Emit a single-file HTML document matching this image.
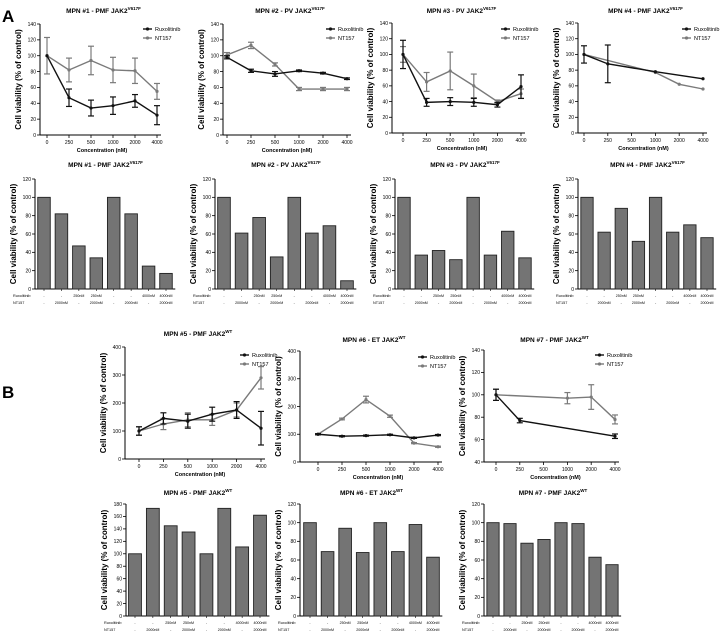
<!DOCTYPE html>
<html><head><meta charset="utf-8"><style>
body{margin:0;background:#fff;width:720px;height:636px;overflow:hidden;font-family:"Liberation Sans",sans-serif}
svg text{font-family:"Liberation Sans",sans-serif}
</style></head><body>
<svg id="fig" width="720" height="636" viewBox="0 0 720 636" xmlns="http://www.w3.org/2000/svg">
<text x="2" y="22" font-size="17" font-weight="bold">A</text>
<text x="2" y="398" font-size="17" font-weight="bold">B</text>
</svg>
<script>
const concLabels=["0","250","500","1000","2000","4000"];
const barRux=["-","-","250nM","250nM","-","-","4000nM","4000nM"];
const barNT=["-","2000nM","-","2000nM","-","2000nM","-","2000nM"];

const p1Rux=[100,47,34,37,43,25], p1RuxErr=[0,11,10,11,8,12];
const p1NT=[100,82,94,82,81,55], p1NTErr=[23,15,18,16,16,10];
const p2Rux=[98,81,77,81,78,71], p2RuxErr=[2,2,3,1,1,1];
const p2NT=[101,113,89,58,58,58], p2NTErr=[3,4,2,2,2,2];
const p3Rux=[100,39,40,39,36,59], p3RuxErr=[18,5,5,5,3,15];
const p3NT=[100,65,79,60,40,50], p3NTErr=[10,12,24,15,2,6];
const p4Rux=[100,88,null,78,null,69], p4RuxErr=[11,24,0,0,0,0];
const p4NT=[100,null,null,77,62,56], p4NTErr=[0,0,0,0,0,0];
const p5Rux=[100,145,135,160,175,110], p5RuxErr=[15,20,25,25,30,60];
const p5NT=[100,125,140,140,175,290], p5NTErr=[15,20,25,20,25,40];
const p6Rux=[100,93,95,98,87,97], p6RuxErr=[2,2,2,2,2,2];
const p6NT=[100,155,225,165,68,55], p6NTErr=[2,3,12,4,2,2];
const p7Rux=[100,77,null,null,null,63], p7RuxErr=[5,2,0,0,0,2];
const p7NT=[100,null,null,97,98,78], p7NTErr=[5,0,0,5,11,4];

const b1=[100,82,47,34,100,82,25,17];
const b2=[100,61,78,35,100,61,69,9];
const b3=[100,37,42,32,100,37,63,34];
const b4=[100,62,88,52,100,62,70,56];
const b5=[100,173,145,135,100,173,111,162];
const b6=[100,69,94,68,100,69,98,63];
const b7=[100,99,78,82,100,99,63,55];

const NS="http://www.w3.org/2000/svg";
const svg=document.getElementById('fig');
function mk(tag,attrs,parent,txt){const e=document.createElementNS(NS,tag);for(const k in attrs)e.setAttribute(k,attrs[k]);if(txt!==undefined)e.textContent=txt;(parent||svg).appendChild(e);return e;}

function title(g,cx,y,main,sup){
  const t=mk('text',{x:cx,y:y,'font-size':6.5,'font-weight':'bold','text-anchor':'middle'},g);
  
  
  mk('tspan',{},t,main);
  mk('tspan',{'font-size':4.5,dy:-3},t,sup);
}

function yAxis(g,ax,top,bot,min,max,step){
  const ys=v=>bot-(v-min)/(max-min)*(bot-top);
  const l=mk('line',{x1:ax,y1:top,x2:ax,y2:bot,stroke:'#000','stroke-width':1},g);
  
  
  for(let v=min;v<=max+1e-9;v+=step){
    mk('line',{x1:ax-3,y1:ys(v),x2:ax,y2:ys(v),stroke:'#000','stroke-width':0.8},g);
    const t=mk('text',{x:ax-4,y:ys(v)+1.8,'font-size':5,'text-anchor':'end'},g,String(v));
    
    
  }
  const yt=mk('text',{x:0,y:0,'font-size':8,'font-weight':'bold','text-anchor':'middle',transform:`translate(${ax-19},${(top+bot)/2}) rotate(-90)`},g,'Cell viability (% of control)');
  
  
  return ys;
}

function lineChart(o){
  const g=mk('g',{});
  
  
  title(g,(o.ax+o.x1)/2+5,o.ty,o.t,o.sup);
  const ys=yAxis(g,o.ax,o.top,o.bot,o.min,o.max,o.step);
  const xs=i=>o.x0+i*(o.x1-o.x0)/(concLabels.length-1);
  mk('line',{x1:o.ax,y1:o.bot,x2:o.x1+4,y2:o.bot,stroke:'#000','stroke-width':1},g);
  concLabels.forEach((c,i)=>{
    mk('line',{x1:xs(i),y1:o.bot,x2:xs(i),y2:o.bot+3,stroke:'#000','stroke-width':0.8},g);
    const t=mk('text',{x:xs(i),y:o.bot+9,'font-size':5,'text-anchor':'middle'},g,c);
    
    
  });
  const xl=mk('text',{x:(o.x0+o.x1)/2,y:o.bot+17,'font-size':5.5,'font-weight':'bold','text-anchor':'middle'},g,'Concentration (nM)');
  
  
  const series=[[o.nt,o.ntE,'#7a7a7a','NT157'],[o.rux,o.ruxE,'#111','Ruxolitinib']];
  series.forEach(([d,e,col,nm])=>{
    const pts=[];d.forEach((v,i)=>{if(v!==null)pts.push(xs(i)+','+ys(v));});
    const pl=mk('polyline',{points:pts.join(' '),fill:'none',stroke:col,'stroke-width':1.4},g);
    
    
    d.forEach((v,i)=>{
      if(v===null)return;
      if(e[i]>0){
        mk('line',{x1:xs(i),y1:ys(v-e[i]),x2:xs(i),y2:ys(v+e[i]),stroke:col,'stroke-width':1.2},g);
        mk('line',{x1:xs(i)-3,y1:ys(v-e[i]),x2:xs(i)+3,y2:ys(v-e[i]),stroke:col,'stroke-width':1.2},g);
        mk('line',{x1:xs(i)-3,y1:ys(v+e[i]),x2:xs(i)+3,y2:ys(v+e[i]),stroke:col,'stroke-width':1.2},g);
      }
      const p=mk('circle',{cx:xs(i),cy:ys(v),r:1.6,fill:col},g);
      
      
    });
  });
  [['#111','Ruxolitinib',0],['#7a7a7a','NT157',9]].forEach(([c,n,dy])=>{
    mk('line',{x1:o.lx,y1:o.ly+dy,x2:o.lx+9,y2:o.ly+dy,stroke:c,'stroke-width':1.4},g);
    mk('circle',{cx:o.lx+4.5,cy:o.ly+dy,r:1.6,fill:c},g);
    const t=mk('text',{x:o.lx+12,y:o.ly+dy+2,'font-size':5.5},g,n);
    
    
  });
}

function barChart(o){
  const g=mk('g',{});
  
  
  title(g,(o.ax+o.x1)/2+5,o.ty,o.t,o.sup);
  const ys=yAxis(g,o.ax,o.top,o.bot,0,o.max,o.step);
  const n=o.d.length;
  const xs=i=>o.x0+i*(o.x1-o.x0)/(n-1);
  const w=(o.x1-o.x0)/(n-1)*0.72;
  mk('line',{x1:o.ax,y1:o.bot,x2:o.x1+w/2+3,y2:o.bot,stroke:'#000','stroke-width':1},g);
  o.d.forEach((v,i)=>{
    const r=mk('rect',{x:xs(i)-w/2,y:ys(v),width:w,height:o.bot-ys(v),fill:'#747474',stroke:'#222','stroke-width':0.9},g);
    
    
    mk('line',{x1:xs(i),y1:o.bot,x2:xs(i),y2:o.bot+2,stroke:'#000','stroke-width':0.6},g);
    const a=mk('text',{x:xs(i),y:o.bot+8,'font-size':3.6,'text-anchor':'middle'},g,barRux[i]);
    
    
    const b=mk('text',{x:xs(i),y:o.bot+15,'font-size':3.6,'text-anchor':'middle'},g,barNT[i]);
    
    
  });
  const r1=mk('text',{x:o.ax-22,y:o.bot+8,'font-size':3.8},g,'Ruxolitinib');
  
  
  const r2=mk('text',{x:o.ax-22,y:o.bot+15,'font-size':3.8},g,'NT157');
  
  
}

const V="V617F", W="WT";
lineChart({name:'line-chart-mpn1',t:'MPN #1 - PMF JAK2',sup:V,ty:13,ax:40,top:24,bot:135,min:0,max:140,step:20,x0:47,x1:157,lx:143,ly:29,rux:p1Rux,ruxE:p1RuxErr,nt:p1NT,ntE:p1NTErr});
lineChart({name:'line-chart-mpn2',t:'MPN #2 - PV JAK2',sup:V,ty:13,ax:223,top:24,bot:135,min:0,max:140,step:20,x0:227,x1:347,lx:326,ly:29,rux:p2Rux,ruxE:p2RuxErr,nt:p2NT,ntE:p2NTErr});
lineChart({name:'line-chart-mpn3',t:'MPN #3 - PV JAK2',sup:V,ty:13,ax:392,top:23,bot:133,min:0,max:140,step:20,x0:403,x1:521,lx:501,ly:29,rux:p3Rux,ruxE:p3RuxErr,nt:p3NT,ntE:p3NTErr});
lineChart({name:'line-chart-mpn4',t:'MPN #4 - PMF JAK2',sup:V,ty:13,ax:578,top:23,bot:133,min:0,max:140,step:20,x0:584,x1:703,lx:682,ly:29,rux:p4Rux,ruxE:p4RuxErr,nt:p4NT,ntE:p4NTErr});

barChart({name:'bar-chart-mpn1',t:'MPN #1 - PMF JAK2',sup:V,ty:167,ax:35,top:179,bot:289,max:120,step:20,x0:44,x1:166,d:b1});
barChart({name:'bar-chart-mpn2',t:'MPN #2 - PV JAK2',sup:V,ty:167,ax:215,top:179,bot:289,max:120,step:20,x0:224,x1:347,d:b2});
barChart({name:'bar-chart-mpn3',t:'MPN #3 - PV JAK2',sup:V,ty:167,ax:395,top:179,bot:289,max:120,step:20,x0:404,x1:525,d:b3});
barChart({name:'bar-chart-mpn4',t:'MPN #4 - PMF JAK2',sup:V,ty:167,ax:578,top:179,bot:289,max:120,step:20,x0:587,x1:707,d:b4});

lineChart({name:'line-chart-mpn5',t:'MPN #5 - PMF JAK2',sup:W,ty:336,ax:125,top:347,bot:459,min:0,max:400,step:100,x0:139,x1:261,lx:240,ly:355,rux:p5Rux,ruxE:p5RuxErr,nt:p5NT,ntE:p5NTErr});
lineChart({name:'line-chart-mpn6',t:'MPN #6 - ET JAK2',sup:W,ty:342,ax:300,top:351,bot:462,min:0,max:400,step:100,x0:318,x1:438,lx:418,ly:357,rux:p6Rux,ruxE:p6RuxErr,nt:p6NT,ntE:p6NTErr});
lineChart({name:'line-chart-mpn7',t:'MPN #7 - PMF JAK2',sup:W,ty:342,ax:484,top:350,bot:462,min:40,max:140,step:20,x0:496,x1:615,lx:595,ly:355,rux:p7Rux,ruxE:p7RuxErr,nt:p7NT,ntE:p7NTErr});

barChart({name:'bar-chart-mpn5',t:'MPN #5 - PMF JAK2',sup:W,ty:495,ax:126,top:504,bot:616,max:180,step:20,x0:135,x1:260,d:b5});
barChart({name:'bar-chart-mpn6',t:'MPN #6 - ET JAK2',sup:W,ty:495,ax:300,top:504,bot:616,max:120,step:20,x0:310,x1:433,d:b6});
barChart({name:'bar-chart-mpn7',t:'MPN #7 - PMF JAK2',sup:W,ty:495,ax:484,top:504,bot:616,max:120,step:20,x0:493,x1:612,d:b7});
</script>
</body></html>
